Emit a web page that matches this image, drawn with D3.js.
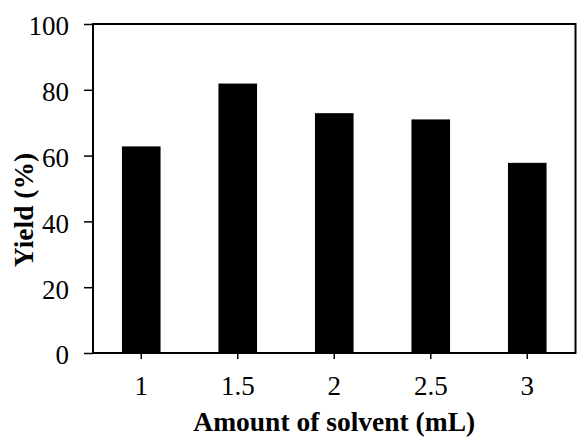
<!DOCTYPE html>
<html>
<head>
<meta charset="utf-8">
<script src="https://cdn.jsdelivr.net/npm/d3@7"></script>
<style>
  body { margin: 0; background: #fff; }
</style>
</head>
<body>
<div class="chart"></div>
<script>
// data
var solvents = ['1', '1.5', '2', '2.5', '3'];
var yields   = [62.8, 81.9, 72.9, 71.0, 57.8];
var yTicks   = [0, 20, 40, 60, 80, 100];

var serif = "'Liberation Serif', 'Times New Roman', Times, serif";

var data = solvents.map((s, i) => { return { amount: s, yield: yields[i] }; });

var margin = { top: 24, right: 1.5, bottom: 84, left: 93 };
var width  = 577 - margin.left - margin.right;
var height = 437 - margin.top - margin.bottom;

var svg = d3.select('.chart').append('svg')
    .attr('width', 577)
    .attr('height', 437)
    .append('g')
    .attr('transform', `translate(${margin.left}, ${margin.top})`);

// scales
var x = d3.scaleBand()
    .domain(solvents)
    .range([0, width])
    .paddingInner(0.6)
    .paddingOuter(0.3);
var y = d3.scaleLinear()
    .domain([0, 100])
    .range([height, 0]);

// bars
svg.selectAll('.bar')
    .data(data)
    .enter().append('rect')
    .attr('class', 'bar')
    .attr('x', (d) => { return x(d.amount); })
    .attr('width', x.bandwidth())
    .attr('y', (d) => { return y(d.yield); })
    .attr('height', (d) => { return height - y(d.yield); })
    .attr('fill', '#000');

// x axis
var xAxis = svg.append('g')
    .attr('transform', `translate(0, ${height})`)
    .call(d3.axisBottom(x).tickSize(6).tickPadding(17));
xAxis.attr('font-family', null);
xAxis.select('.domain').remove();
xAxis.selectAll('line').attr('stroke', '#000').attr('stroke-width', 1.5);
xAxis.selectAll('text')
    .style('font-family', serif)
    .style('font-size', '27px')
    .attr('fill', '#000');

// y axis
var yAxis = svg.append('g')
    .call(d3.axisLeft(y).tickValues(yTicks).tickSize(9).tickPadding(15));
yAxis.attr('font-family', null);
yAxis.select('.domain').remove();
yAxis.selectAll('line').attr('stroke', '#000').attr('stroke-width', 1.5);
yAxis.selectAll('text')
    .style('font-family', serif)
    .style('font-size', '27px')
    .attr('fill', '#000')
    .attr('dy', '0.4em');

// frame
svg.append('rect')
    .attr('x', 0)
    .attr('y', 0)
    .attr('width', width)
    .attr('height', height)
    .attr('fill', 'none')
    .attr('stroke', '#000')
    .attr('stroke-width', 2);

// axis titles
svg.append('text')
    .attr('x', width / 2)
    .attr('y', height + 78)
    .attr('text-anchor', 'middle')
    .style('font-family', serif)
    .style('font-size', '27.5px')
    .style('font-weight', 'bold')
    .text('Amount of solvent (mL)');

svg.append('text')
    .attr('transform', `translate(${33 - margin.left}, ${210 - margin.top}) rotate(-90)`)
    .attr('text-anchor', 'middle')
    .style('font-family', serif)
    .style('font-size', '27.5px')
    .style('font-weight', 'bold')
    .text('Yield (%)');
</script>
</body>
</html>
